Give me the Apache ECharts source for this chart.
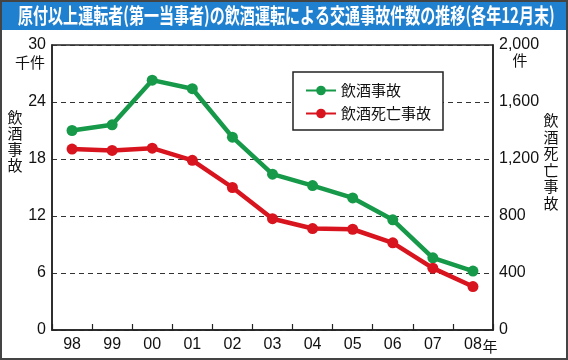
<!DOCTYPE html>
<html><head><meta charset="utf-8">
<script src="https://cdn.jsdelivr.net/npm/echarts@6/dist/echarts.min.js"></script>
<style>html,body{margin:0;padding:0;background:#fff}#c{width:568px;height:360px}</style>
</head><body><div id="c"></div>
<script>
const categories = ['98','99','00','01','02','03','04','05','06','07','08'];
const drunkAccidents = [21.0, 21.6, 26.3, 25.4, 20.3, 16.4, 15.2, 13.9, 11.6, 7.6, 6.2]; // thousand
const drunkFatal = [1270, 1260, 1276, 1191, 1000, 781, 712, 707, 612, 434, 305];
const leftTicks = {min: 0, max: 30, interval: 6};
const rightTicks = {min: 0, max: 2000, interval: 400};
const titleText = '原付以上運転者(第一当事者)の飲酒運転による交通事故件数の推移(各年12月末)';
const seriesNames = ['飲酒事故', '飲酒死亡事故'];

const GREEN = '#17994a', RED = '#d8141e';
const chart = echarts.init(document.getElementById('c'));
const numFont = '"Liberation Sans", Arial, sans-serif';
const jpFont = '"Noto Sans CJK JP", sans-serif';
chart.setOption({
  animation: false,
  grid: {left: 52, right: 75, top: 45, bottom: 30, show: true, borderColor: '#222', borderWidth: 1.5, backgroundColor: '#fff'},
  legend: {
    orient: 'vertical', left: 293, top: 72, width: 160,
    padding: [11, 12, 9, 12], itemGap: 8, itemWidth: 30, itemHeight: 12,
    borderColor: '#222', borderWidth: 1.5, backgroundColor: '#fff',
    textStyle: {fontSize: 15, color: '#111', fontFamily: jpFont},
    data: seriesNames
  },
  xAxis: {
    type: 'category', data: categories, boundaryGap: true,
    axisLine: {lineStyle: {color: '#222', width: 1.5}},
    axisTick: {show: true, inside: true, length: 6, lineStyle: {color: '#222', width: 1.2}},
    axisLabel: {fontSize: 16, color: '#111', fontFamily: numFont, margin: 7}
  },
  yAxis: [
    {type: 'value', min: leftTicks.min, max: leftTicks.max, interval: leftTicks.interval,
     axisLine: {show: true, lineStyle: {color: '#222', width: 1.5}}, axisTick: {show: false},
     axisLabel: {fontSize: 16, color: '#111', fontFamily: numFont, margin: 6},
     splitLine: {show: true, lineStyle: {color: '#333', type: [5, 4], width: 1.2}}},
    {type: 'value', min: rightTicks.min, max: rightTicks.max, interval: rightTicks.interval,
     axisLine: {show: true, lineStyle: {color: '#222', width: 1.5}}, axisTick: {show: false},
     axisLabel: {fontSize: 16, color: '#111', fontFamily: numFont, margin: 6,
       formatter: v => v.toLocaleString('en-US')},
     splitLine: {show: false}}
  ],
  series: [
    {name: seriesNames[0], type: 'line', yAxisIndex: 0, data: drunkAccidents,
     symbol: 'circle', symbolSize: 11, color: GREEN, lineStyle: {width: 4.5, color: GREEN}, z: 3},
    {name: seriesNames[1], type: 'line', yAxisIndex: 1, data: drunkFatal,
     symbol: 'circle', symbolSize: 11, color: RED, lineStyle: {width: 4.5, color: RED}, z: 3}
  ],
  graphic: [
    {type: 'rect', shape: {x: 0, y: 0, width: 568, height: 30}, style: {fill: '#1f80d0'}, z: 0},
    {type: 'text', x: 18, y: 15, scaleX: 0.716, scaleY: 1,
     style: {text: titleText, fill: '#fff', fontSize: 21, fontWeight: 'bold', fontFamily: jpFont, textVerticalAlign: 'middle'}, z: 10},
    {type: 'rect', shape: {x: 1, y: 1, width: 566, height: 358}, style: {fill: 'none', stroke: '#444', lineWidth: 2}, z: 20},
    {type: 'text', x: 30, y: 62, style: {text: '千件', fill: '#111', fontSize: 15, fontFamily: jpFont, textAlign: 'center', textVerticalAlign: 'middle'}},
    {type: 'text', x: 520, y: 60, style: {text: '件', fill: '#111', fontSize: 15, fontFamily: jpFont, textAlign: 'center', textVerticalAlign: 'middle'}},
    {type: 'text', x: 15, y: 141, style: {text: '飲\n酒\n事\n故', fill: '#111', fontSize: 15, lineHeight: 16, fontFamily: jpFont, textAlign: 'center', textVerticalAlign: 'middle'}},
    {type: 'text', x: 551, y: 162, style: {text: '飲\n酒\n死\n亡\n事\n故', fill: '#111', fontSize: 15, lineHeight: 16.5, fontFamily: jpFont, textAlign: 'center', textVerticalAlign: 'middle'}},
    {type: 'text', x: 490, y: 346, style: {text: '年', fill: '#111', fontSize: 15, fontFamily: jpFont, textAlign: 'center', textVerticalAlign: 'middle'}}
  ]
});
</script></body></html>
